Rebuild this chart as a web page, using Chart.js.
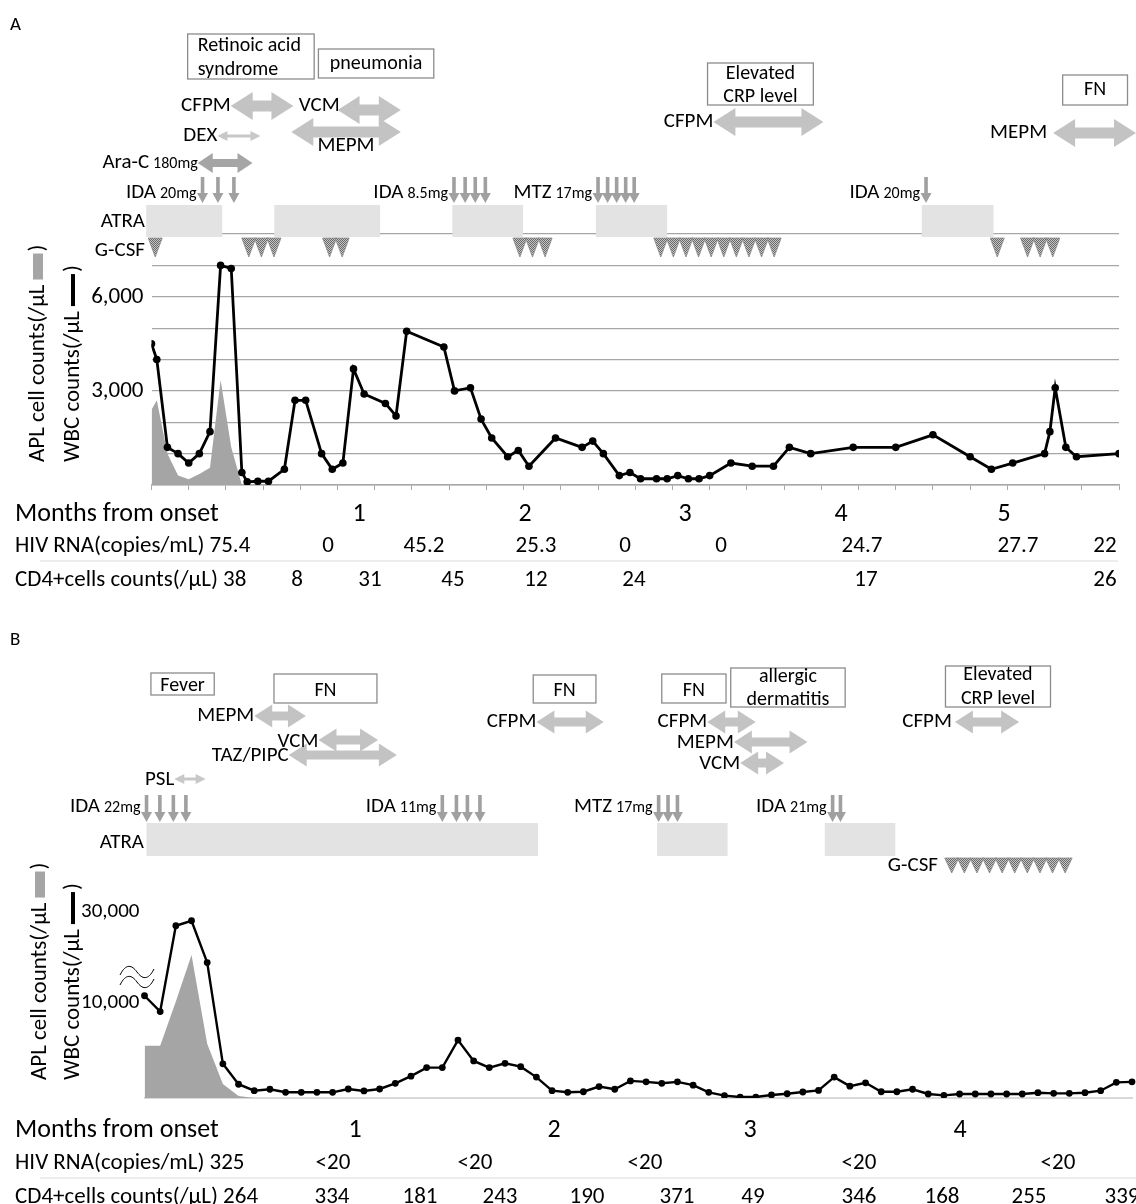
<!DOCTYPE html>
<html>
<head>
<meta charset="utf-8">
<title>Clinical course</title>
<script src="https://cdn.jsdelivr.net/npm/chart.js@4.4.1/dist/chart.umd.min.js"></script>
<style>
  html, body { margin: 0; padding: 0; background: #fff; overflow: hidden; }
  canvas { display: block; }
</style>
</head>
<body>
<canvas id="chartA" width="1136" height="600"></canvas>
<canvas id="chartB" width="1136" height="604"></canvas>
<script>
// === Panel A: counts by day from onset ===
const aDays = [0, 1, 3, 5, 7, 9, 11, 13, 15, 17, 18, 20, 22, 25, 27, 29, 32, 34, 36, 38,
  40, 44, 46, 48, 55, 57, 60, 62, 64, 67, 69, 71, 76, 81, 83, 85, 88, 90, 92, 95,
  97, 99, 101, 103, 105, 109, 113, 117, 120, 124, 132, 140, 147, 154, 158, 162, 168, 169, 170, 172,
  174, 182];
const aWbc = [4500, 4000, 1200, 1000, 700, 1000, 1700, 7000, 6900, 400, 100, 120, 120, 500, 2700, 2700, 1000, 500, 700, 3700,
  2900, 2600, 2200, 4900, 4400, 3000, 3100, 2100, 1500, 900, 1100, 600, 1500, 1200, 1400, 1000, 300, 400, 200, 200,
  200, 300, 200, 200, 300, 700, 600, 600, 1200, 1000, 1200, 1200, 1600, 900, 500, 700, 1000, 1700, 3100, 1200,
  900, 1000];
const aApl = [2400, 2700, 1000, 300, 180, 350, 550, 3350, 1200, 0];
const aYLabels = [3000, 6000];

// === Panel B: counts by sample ===
const bWbc = [11600, 9100, 27000, 28100, 18900, 3600, 1450, 770, 920, 600,
  600, 600, 600, 950, 740, 950, 1550, 2300, 3200, 3200,
  6100, 3900, 3200, 3650, 3300, 2200, 770, 600, 660, 1200,
  920, 1800, 1700, 1550, 1700, 1350, 600, 250, 100, 100,
  320, 450, 630, 800, 2200, 1250, 1600, 660, 660, 920,
  420, 280, 420, 420, 420, 420, 420, 560, 490, 490,
  560, 770, 1650, 1700];
const bApl = [5500, 5500, 10350, 20550, 5700, 1470, 200, 0];
const bYLabels = [10000, 30000];
const bLabels = bWbc.map((_, i) => 'S' + (i + 1));

// === tables under the charts ===
const aMonths = ['1', '2', '3', '4', '5'];
const aHivRna = ['75.4', '0', '45.2', '25.3', '0', '0', '24.7', '27.7', '22'];
const aCd4 = ['38', '8', '31', '45', '12', '24', '17', '26'];
const bMonths = ['1', '2', '3', '4'];
const bHivRna = ['325', '<20', '<20', '<20', '<20', '<20'];
const bCd4 = ['264', '334', '181', '243', '190', '371', '49', '346', '168', '255', '339'];

// x centres of the table entries (first value sits after the row title)
const aMonthsX = [359, 525, 685, 841, 1004];
const aHivX = [null, 328, 424, 536, 625, 721, 862, 1018, 1105];
const aCd4X = [null, 297, 370, 453, 536, 634, 866, 1105];
const bMonthsX = [355, 554, 750, 960];
const bHivX = [null, 333, 475, 645, 859, 1058];
const bCd4X = [null, 332, 420, 500, 587, 677, 753, 859, 942, 1029, 1122];

const FONT = 'Carlito, Lato, "Liberation Sans", sans-serif';
const font = (size) => size + 'px ' + FONT;
Chart.defaults.font.family = FONT;

const ARROW = {
  thick: { h: 28, shaft: 11, head: 22, color: '#c3c3c3' },
  thickB: { h: 23, shaft: 9, head: 18, color: '#c3c3c3' },
  mid: { h: 20, shaft: 8, head: 15, color: '#a5a5a5' },
  thin: { h: 10, shaft: 3, head: 10, color: '#c8c8c8' },
};

// === timeline annotations (x in the panel's x units) ===
const specA = {
  letter: ['A', 10, 25],
  boxes: [
    { lines: ['Retinoic acid', 'syndrome'], from: 6.8, to: 30.6, top: 34, bottom: 79, lineY: [46, 70], align: 'left' },
    { lines: ['pneumonia'], from: 31.4, to: 53.1, top: 49, bottom: 78, lineY: [64] },
    { lines: ['Elevated', 'CRP level'], from: 104.6, to: 124.5, top: 63, bottom: 105, lineY: [74, 97] },
    { lines: ['FN'], from: 171.4, to: 183.6, top: 75, bottom: 105, lineY: [90] },
  ],
  drugs: [
    { name: 'CFPM', from: 14.9, to: 26.7, y: 106, kind: 'thick' },
    { name: 'VCM', from: 35, to: 46.9, y: 110, kind: 'thick', labelAt: 27.7, labelAlign: 'left', labelY: 106 },
    { name: 'DEX', from: 12.4, to: 20.5, y: 136, kind: 'thin' },
    { name: 'MEPM', from: 26.3, to: 46.9, y: 132, kind: 'thick', labelAt: 36.6, labelAlign: 'center', labelY: 146 },
    { name: 'Ara-C', dose: '180mg', from: 8.7, to: 19, y: 163, kind: 'mid' },
    { name: 'CFPM', from: 105.7, to: 126.4, y: 122, kind: 'thick' },
    { name: 'MEPM', from: 169.6, to: 185.2, y: 133, kind: 'thick', gap: 6 },
  ],
  doses: [
    { name: 'IDA', dose: '20mg', at: [9.6, 12.5, 15.5] },
    { name: 'IDA', dose: '8.5mg', at: [56.9, 59, 60.9, 62.8] },
    { name: 'MTZ', dose: '17mg', at: [84, 85.8, 87.5, 89.2, 90.8] },
    { name: 'IDA', dose: '20mg', at: [145.7] },
  ],
  doseRow: [177, 203, 193],
  bars: [[-1, 13.3], [23.1, 43], [56.6, 69.9], [83.6, 97], [144.9, 158.4]],
  barRow: [205, 237],
  barLabel: ['ATRA', 145, 222],
  gcsf: [[0.7, 1], [18.3, 3], [33.5, 2], [69.3, 3], [95.8, 10], [159.1, 1], [164.8, 3]],
  gcsfRow: [238, 19],
  gcsfLabel: ['G-CSF', 145, 251],
  titles: [38, 73, 462],
  table: {
    y: [514, 546, 580], sep: [561, 40, 1118],
    months: [aMonths, aMonthsX], hiv: [aHivRna, aHivX], cd4: [aCd4, aCd4X],
  },
};

const specB = {
  letter: ['B', 10, 40],
  boxes: [
    { lines: ['Fever'], from: 0.41, to: 4.45, top: 73, bottom: 95, lineY: [86] },
    { lines: ['FN'], from: 8.26, to: 14.83, top: 74, bottom: 103, lineY: [91] },
    { lines: ['FN'], from: 24.8, to: 28.8, top: 75, bottom: 103, lineY: [91] },
    { lines: ['FN'], from: 33, to: 37.1, top: 74, bottom: 103, lineY: [91] },
    { lines: ['allergic', 'dermatitis'], from: 37.4, to: 44.7, top: 68, bottom: 107, lineY: [77, 100] },
    { lines: ['Elevated', 'CRP level'], from: 51.1, to: 57.8, top: 66, bottom: 107, lineY: [75, 99] },
  ],
  drugs: [
    { name: 'MEPM', from: 7, to: 10.3, y: 116, kind: 'thickB' },
    { name: 'TAZ/PIPC', from: 9.2, to: 16.1, y: 155, kind: 'thickB', labelY: 156 },
    { name: 'VCM', from: 11.1, to: 14.9, y: 140, kind: 'thickB', labelY: 142 },
    { name: 'PSL', from: 1.9, to: 3.9, y: 179, kind: 'thin', labelY: 180 },
    { name: 'CFPM', from: 25, to: 29.3, y: 122, kind: 'thickB' },
    { name: 'CFPM', from: 35.9, to: 39, y: 122, kind: 'thickB' },
    { name: 'MEPM', from: 37.6, to: 42.3, y: 142, kind: 'thickB', labelY: 143 },
    { name: 'VCM', from: 38, to: 40.8, y: 163, kind: 'thickB', labelY: 164 },
    { name: 'CFPM', from: 51.7, to: 55.8, y: 122, kind: 'thickB', gap: 3 },
  ],
  doses: [
    { name: 'IDA', dose: '22mg', at: [0.13, 0.98, 1.84, 2.64] },
    { name: 'IDA', dose: '11mg', at: [19, 19.9, 20.6, 21.4] },
    { name: 'MTZ', dose: '17mg', at: [32.8, 33.4, 34] },
    { name: 'IDA', dose: '21mg', at: [43.9, 44.4] },
  ],
  doseRow: [195, 222, 207],
  bars: [[0.13, 25.1], [32.7, 37.2], [43.4, 47.9]],
  barRow: [223, 256],
  barLabel: ['ATRA', 144, 243],
  gcsf: [[51.5, 10]],
  gcsfRow: [258, 15],
  gcsfLabel: ['G-CSF', 938, 266],
  titles: [40, 73, 480],
  brokenAxis: [137, 377],
  table: {
    y: [530, 563, 597], sep: [578, 40, 1136],
    months: [bMonths, bMonthsX], hiv: [bHivRna, bHivX], cd4: [bCd4, bCd4X],
  },
};

// === drawing helpers ===
function label(ctx, str, x, y, size, align) {
  ctx.font = font(size);
  ctx.fillStyle = '#000';
  ctx.textAlign = align || 'left';
  ctx.textBaseline = 'middle';
  ctx.fillText(str, x, y);
}

function doubleArrow(ctx, x1, x2, y, s) {
  const hh = s.h / 2, sh = s.shaft / 2, hl = Math.min(s.head, (x2 - x1) / 2);
  ctx.beginPath();
  ctx.moveTo(x1, y);
  ctx.lineTo(x1 + hl, y - hh); ctx.lineTo(x1 + hl, y - sh);
  ctx.lineTo(x2 - hl, y - sh); ctx.lineTo(x2 - hl, y - hh);
  ctx.lineTo(x2, y);
  ctx.lineTo(x2 - hl, y + hh); ctx.lineTo(x2 - hl, y + sh);
  ctx.lineTo(x1 + hl, y + sh); ctx.lineTo(x1 + hl, y + hh);
  ctx.closePath();
  ctx.fillStyle = s.color;
  ctx.fill();
}

function downArrow(ctx, x, y1, y2) {
  ctx.fillStyle = '#a0a0a0';
  ctx.fillRect(x - 1.8, y1, 3.6, y2 - y1 - 9);
  ctx.beginPath();
  ctx.moveTo(x - 5.5, y2 - 10);
  ctx.lineTo(x + 5.5, y2 - 10);
  ctx.lineTo(x, y2);
  ctx.closePath();
  ctx.fill();
}

let hatch = null;
function hatchPattern(ctx) {
  if (hatch) return hatch;
  const c = document.createElement('canvas');
  c.width = 2; c.height = 2;
  const g = c.getContext('2d');
  g.fillStyle = '#c4c4c4'; g.fillRect(0, 0, 2, 2);
  g.fillStyle = '#6a6a6a'; g.fillRect(0, 0, 1, 1); g.fillRect(1, 1, 1, 1);
  hatch = ctx.createPattern(c, 'repeat');
  return hatch;
}

function rotatedTitle(ctx, x, y, text, swatch) {
  ctx.save();
  ctx.translate(x, y);
  ctx.rotate(-Math.PI / 2);
  label(ctx, text, 0, 0, 23);
  let w = ctx.measureText(text).width + 5;
  if (swatch === 'area') {
    ctx.fillStyle = '#a5a5a5';
    ctx.fillRect(w, -5, 26, 10);
    w += 28;
  } else {
    ctx.fillStyle = '#000';
    ctx.fillRect(w, -2, 32, 4);
    w += 34;
  }
  label(ctx, ')', w, 0, 23);
  ctx.restore();
}

function drawTable(ctx, t) {
  const [yM, yH, yC] = t.y;
  ctx.strokeStyle = '#dadada';
  ctx.lineWidth = 1;
  ctx.beginPath();
  ctx.moveTo(t.sep[1], t.sep[0]); ctx.lineTo(t.sep[2], t.sep[0]);
  ctx.stroke();

  label(ctx, 'Months from onset', 15, yM, 26);
  t.months[0].forEach((m, i) => label(ctx, m, t.months[1][i], yM, 26, 'center'));

  const row = (title, vals, xs, y) => {
    label(ctx, title + ' ' + vals[0], 15, y, 23);
    vals.forEach((v, i) => { if (i > 0) label(ctx, v, xs[i], y, 23, 'center'); });
  };
  row('HIV RNA(copies/mL)', t.hiv[0], t.hiv[1], yH);
  row('CD4+cells counts(/\u03bcL)', t.cd4[0], t.cd4[1], yC);
}

function drawPanel(chart, s) {
  const ctx = chart.ctx;
  const xs = chart.scales.x;
  const px = (v) => xs.getPixelForValue(v);
  ctx.save();

  label(ctx, s.letter[0], s.letter[1], s.letter[2], 19);

  // event boxes
  s.boxes.forEach((b) => {
    const x1 = px(b.from), x2 = px(b.to);
    ctx.strokeStyle = '#8c8c8c';
    ctx.lineWidth = 1.3;
    ctx.strokeRect(x1, b.top, x2 - x1, b.bottom - b.top);
    b.lines.forEach((ln, i) => {
      if (b.align === 'left') label(ctx, ln, x1 + 10, b.lineY[i], 20);
      else label(ctx, ln, (x1 + x2) / 2, b.lineY[i], 20, 'center');
    });
  });

  // antibiotic / steroid periods
  s.drugs.forEach((d) => doubleArrow(ctx, px(d.from), px(d.to), d.y, ARROW[d.kind]));
  s.drugs.forEach((d) => {
    const ly = d.labelY || d.y;
    if (d.labelAt !== undefined) {
      label(ctx, d.name, px(d.labelAt), ly, 21, d.labelAlign);
      return;
    }
    let xr = px(d.from) - (d.gap || 0);
    if (d.dose) {
      label(ctx, d.dose, xr, ly + 1, 16, 'right');
      xr -= ctx.measureText(d.dose).width + 4;
    }
    label(ctx, d.name, xr, ly, 21, 'right');
  });

  // chemotherapy doses
  const [dTop, dBottom, dY] = s.doseRow;
  s.doses.forEach((d) => {
    d.at.forEach((v) => downArrow(ctx, px(v), dTop, dBottom));
    let xr = px(d.at[0]) - 6;
    label(ctx, d.dose, xr, dY + 1, 16, 'right');
    xr -= ctx.measureText(d.dose).width + 4;
    label(ctx, d.name, xr, dY, 21, 'right');
  });

  // ATRA periods
  ctx.fillStyle = '#e3e3e3';
  s.bars.forEach(([a, b]) => ctx.fillRect(px(a), s.barRow[0], px(b) - px(a), s.barRow[1] - s.barRow[0]));
  label(ctx, s.barLabel[0], s.barLabel[1], s.barLabel[2], 21, 'right');

  // G-CSF
  const [gTop, gH] = s.gcsfRow;
  const pat = hatchPattern(ctx);
  s.gcsf.forEach(([start, n]) => {
    for (let i = 0; i < n; i++) {
      const cx = px(start) + i * 12.6;
      ctx.beginPath();
      ctx.moveTo(cx - 7, gTop);
      ctx.lineTo(cx + 7, gTop);
      ctx.lineTo(cx, gTop + gH);
      ctx.closePath();
      ctx.fillStyle = pat;
      ctx.fill();
      ctx.strokeStyle = '#8a8a8a';
      ctx.lineWidth = 0.8;
      ctx.stroke();
    }
  });
  label(ctx, s.gcsfLabel[0], s.gcsfLabel[1], s.gcsfLabel[2], 21, 'right');

  // axis titles
  const [tx1, tx2, ty] = s.titles;
  rotatedTitle(ctx, tx1, ty, 'APL cell counts(/\u03bcL', 'area');
  rotatedTitle(ctx, tx2, ty, 'WBC counts(/\u03bcL', 'line');

  if (s.brokenAxis) {
    const [bx, by] = s.brokenAxis;
    ctx.strokeStyle = '#000';
    ctx.lineWidth = 1;
    [-5, 5].forEach((dy) => {
      ctx.beginPath();
      ctx.moveTo(bx - 17, by + 3 + dy);
      ctx.bezierCurveTo(bx - 11, by - 9 + dy, bx - 5, by - 7 + dy, bx, by + dy);
      ctx.bezierCurveTo(bx + 5, by + 7 + dy, bx + 11, by + 9 + dy, bx + 17, by - 3 + dy);
      ctx.stroke();
    });
  }

  drawTable(ctx, s.table);
  ctx.restore();
}

// === y scale with a break above 10,000 (panel B) ===
class BrokenScale extends Chart.LinearScale {
  getPixelForValue(value) {
    const brk = this.options.breakAt, frac = this.options.breakFrac;
    const f = value <= brk
      ? (value - this.min) / (brk - this.min) * frac
      : frac + (value - brk) / (this.max - brk) * (1 - frac);
    return this.bottom - f * (this.bottom - this.top);
  }
  getValueForPixel(pixel) {
    const brk = this.options.breakAt, frac = this.options.breakFrac;
    const f = (this.bottom - pixel) / (this.bottom - this.top);
    return f <= frac
      ? this.min + f / frac * (brk - this.min)
      : brk + (f - frac) / (1 - frac) * (this.max - brk);
  }
}
BrokenScale.id = 'broken';
Chart.register(BrokenScale);

const fmt = (v) => Number(v).toLocaleString('en-US');

// === Panel A chart ===
new Chart(document.getElementById('chartA'), {
  type: 'line',
  data: {
    datasets: [
      {
        label: 'WBC',
        data: aDays.map((d, i) => ({ x: d, y: aWbc[i] })),
        borderColor: '#000',
        borderWidth: 2.8,
        pointRadius: 3.8,
        pointBackgroundColor: '#000',
        pointBorderWidth: 0,
        tension: 0,
        order: 0,
      },
      {
        label: 'APL',
        data: aApl.map((v, i) => ({ x: aDays[i], y: v })),
        fill: 'origin',
        backgroundColor: '#a5a5a5',
        borderWidth: 0,
        pointRadius: 0,
        tension: 0,
        order: 1,
      },
    ],
  },
  options: {
    responsive: false,
    animation: false,
    devicePixelRatio: 1,
    events: [],
    layout: { padding: { left: 0, right: 17, top: 234, bottom: 109 } },
    plugins: { legend: { display: false }, tooltip: { enabled: false } },
    scales: {
      x: {
        type: 'linear', min: 0, max: 182,
        afterFit: (sc) => { sc.height = 6; },
        ticks: { display: false, stepSize: 7 },
        grid: { drawOnChartArea: false, drawTicks: true, tickLength: 5, color: '#a6a6a6' },
        border: { color: '#a6a6a6', width: 1.5 },
      },
      y: {
        min: 0, max: 8000,
        afterFit: (sc) => { sc.width = 151.5; },
        ticks: {
          stepSize: 1000, padding: 8, color: '#000', font: { size: 23 },
          callback: (v) => (aYLabels.includes(v) ? fmt(v) : ''),
        },
        grid: { color: '#a6a6a6', lineWidth: 1.2, drawTicks: false },
        border: { display: false },
      },
    },
  },
  plugins: [{ id: 'timelineA', afterDraw: (c) => drawPanel(c, specA) }],
});

// === Panel B chart ===
new Chart(document.getElementById('chartB'), {
  type: 'line',
  data: {
    labels: bLabels,
    datasets: [
      {
        label: 'WBC',
        data: bWbc,
        borderColor: '#000',
        borderWidth: 2.4,
        pointRadius: 3.4,
        pointBackgroundColor: '#000',
        pointBorderWidth: 0,
        tension: 0,
        order: 0,
      },
      {
        label: 'APL',
        data: bApl,
        fill: 'origin',
        backgroundColor: '#a5a5a5',
        borderWidth: 0,
        pointRadius: 0,
        tension: 0,
        order: 1,
      },
    ],
  },
  options: {
    responsive: false,
    animation: false,
    devicePixelRatio: 1,
    events: [],
    layout: { padding: { left: 0, right: 0, top: 303, bottom: 104 } },
    plugins: { legend: { display: false }, tooltip: { enabled: false } },
    scales: {
      x: {
        type: 'category', offset: false,
        afterFit: (sc) => { sc.height = 2; },
        ticks: { display: false },
        grid: { display: false },
        border: { color: '#d9d9d9', width: 2 },
      },
      y: {
        type: 'broken', min: 0, max: 32000, breakAt: 10000, breakFrac: 0.487,
        afterFit: (sc) => { sc.width = 144.5; },
        afterBuildTicks: (sc) => { sc.ticks = bYLabels.map((v) => ({ value: v })); },
        ticks: { padding: -3, color: '#000', font: { size: 21 }, callback: (v) => fmt(v) },
        grid: { display: false },
        border: { display: false },
      },
    },
  },
  plugins: [{ id: 'timelineB', afterDraw: (c) => drawPanel(c, specB) }],
});
</script>
</body>
</html>
